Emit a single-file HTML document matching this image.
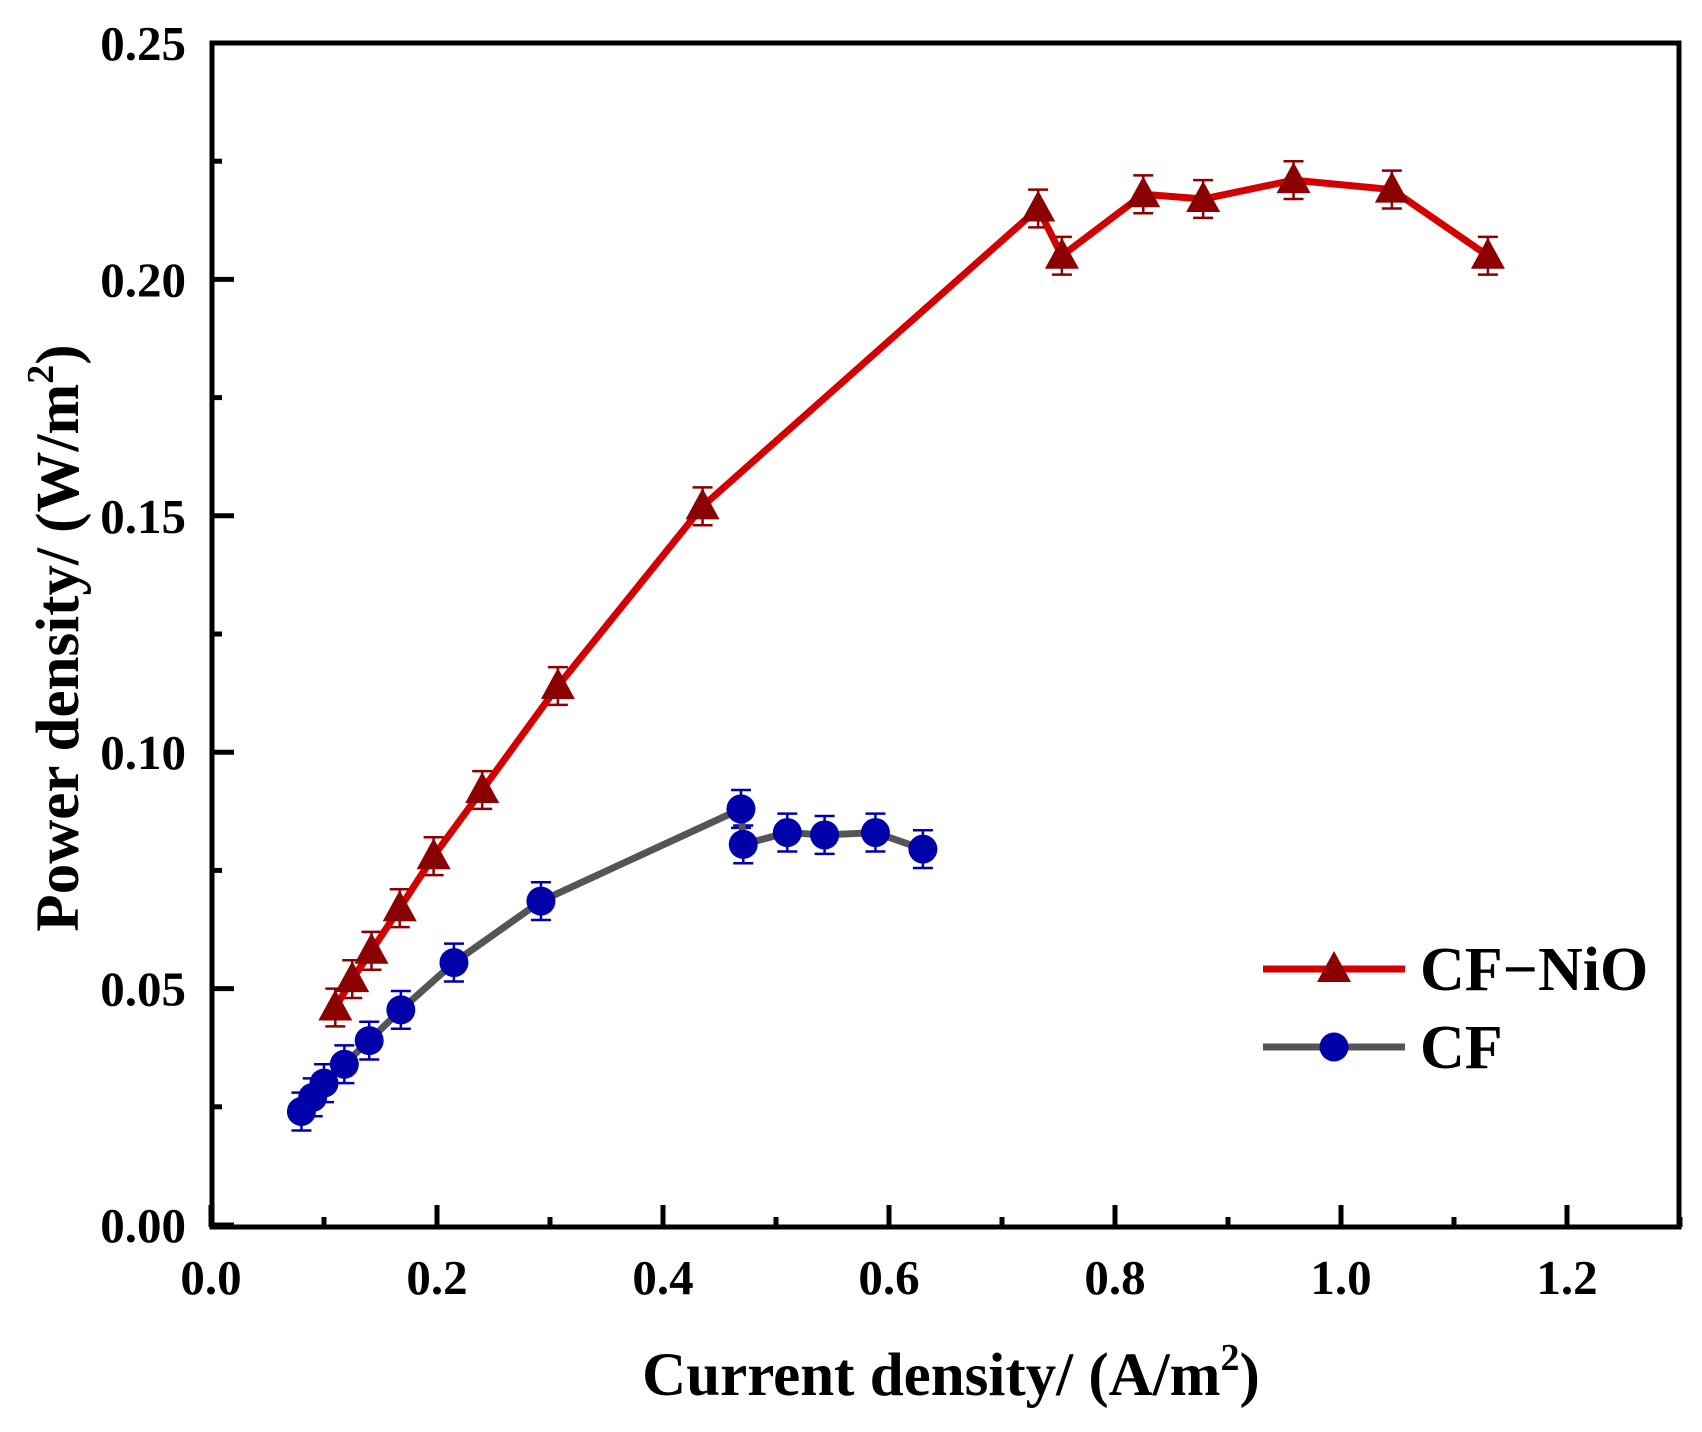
<!DOCTYPE html>
<html><head><meta charset="utf-8"><style>body{margin:0;background:#fff}svg{display:block}text{font-family:"Liberation Serif",serif;font-weight:bold;fill:#000}</style></head>
<body>
<svg id="s" width="1702" height="1432" viewBox="0 0 1702 1432" xmlns="http://www.w3.org/2000/svg"></svg>
<script>
const s=document.getElementById('s');const NS='http://www.w3.org/2000/svg';
function el(t,a,txt){const e=document.createElementNS(NS,t);for(const k in a)e.setAttribute(k,a[k]);if(txt!==undefined)e.textContent=txt;s.appendChild(e);return e;}
const X=v=>211+v/0.2*226, Y=v=>1225-v/0.25*1182;
for(let i=0;i<=13;i++){const v=i*0.1,x=X(v),maj=i%2==0;el('line',{x1:x,x2:x,y1:1227,y2:1227-(maj?22:10),stroke:'#000','stroke-width':5});
 if(maj)el('text',{x:x,y:1294,'font-size':49,'text-anchor':'middle'},v.toFixed(1));}
for(let i=0;i<=10;i++){const v=i*0.025,y=Y(v),maj=i%2==0;el('line',{x1:212,x2:212+(maj?22:10),y1:y,y2:y,stroke:'#000','stroke-width':5});
 if(maj)el('text',{x:186,y:y+17,'font-size':49,'text-anchor':'end'},v.toFixed(2));}
el('rect',{x:212,y:43,width:1467,height:1184,fill:'none',stroke:'#000','stroke-width':5});
const A=[[0.11,0.046],[0.125,0.052],[0.142,0.058],[0.167,0.067],[0.197,0.078],[0.24,0.092],[0.307,0.114],[0.435,0.152],[0.732,0.215],[0.753,0.205],[0.825,0.218],[0.878,0.217],[0.958,0.221],[1.045,0.219],[1.13,0.205]];
const B=[[0.08,0.024],[0.09,0.027],[0.1,0.03],[0.118,0.034],[0.14,0.039],[0.168,0.0455],[0.215,0.0555],[0.292,0.0685],[0.469,0.088],[0.471,0.0805],[0.51,0.083],[0.543,0.0825],[0.588,0.083],[0.63,0.0795]];
function eb(d,c){d.forEach(p=>{const x=X(p[0]),y1=Y(p[1]+0.004),y2=Y(p[1]-0.004);el('path',{d:`M${x},${y1}V${y2}M${x-10},${y1}H${x+10}M${x-10},${y2}H${x+10}`,stroke:c,'stroke-width':2.5,fill:'none'});});}
eb(A,'#8b0000');eb(B,'#0000aa');
el('polyline',{points:A.map(p=>X(p[0])+','+Y(p[1])).join(' '),fill:'none',stroke:'#d40000','stroke-width':7,'stroke-linejoin':'round'});
el('polyline',{points:B.map(p=>X(p[0])+','+Y(p[1])).join(' '),fill:'none',stroke:'#555','stroke-width':7,'stroke-linejoin':'round'});
const tri=(x,y)=>el('path',{d:`M${x},${y-18}L${x+17},${y+13}L${x-17},${y+13}Z`,fill:'#8b0000'});
const cir=(x,y)=>el('circle',{cx:x,cy:y,r:14.5,fill:'#0000aa'});
A.forEach(p=>tri(X(p[0]),Y(p[1])));B.forEach(p=>cir(X(p[0]),Y(p[1])));
el('line',{x1:1263,x2:1405,y1:969,y2:969,stroke:'#d40000','stroke-width':7});tri(1334,969);
el('line',{x1:1263,x2:1405,y1:1047,y2:1047,stroke:'#555','stroke-width':7});cir(1334,1047);
el('text',{x:1420,y:990,'font-size':62},'CF\u2212NiO');
el('text',{x:1420,y:1068,'font-size':62},'CF');
const t=el('text',{x:951,y:1395,'font-size':61,'text-anchor':'middle'});t.innerHTML='Current density/ (A/m<tspan dy="-25" font-size="38">2</tspan><tspan dy="25">)</tspan>';
const t2=el('text',{x:0,y:0,'font-size':61,'text-anchor':'middle',transform:'translate(78,638) rotate(-90)'});t2.innerHTML='Power density/ (W/m<tspan dy="-25" font-size="38">2</tspan><tspan dy="25">)</tspan>';
</script>
</body></html>
